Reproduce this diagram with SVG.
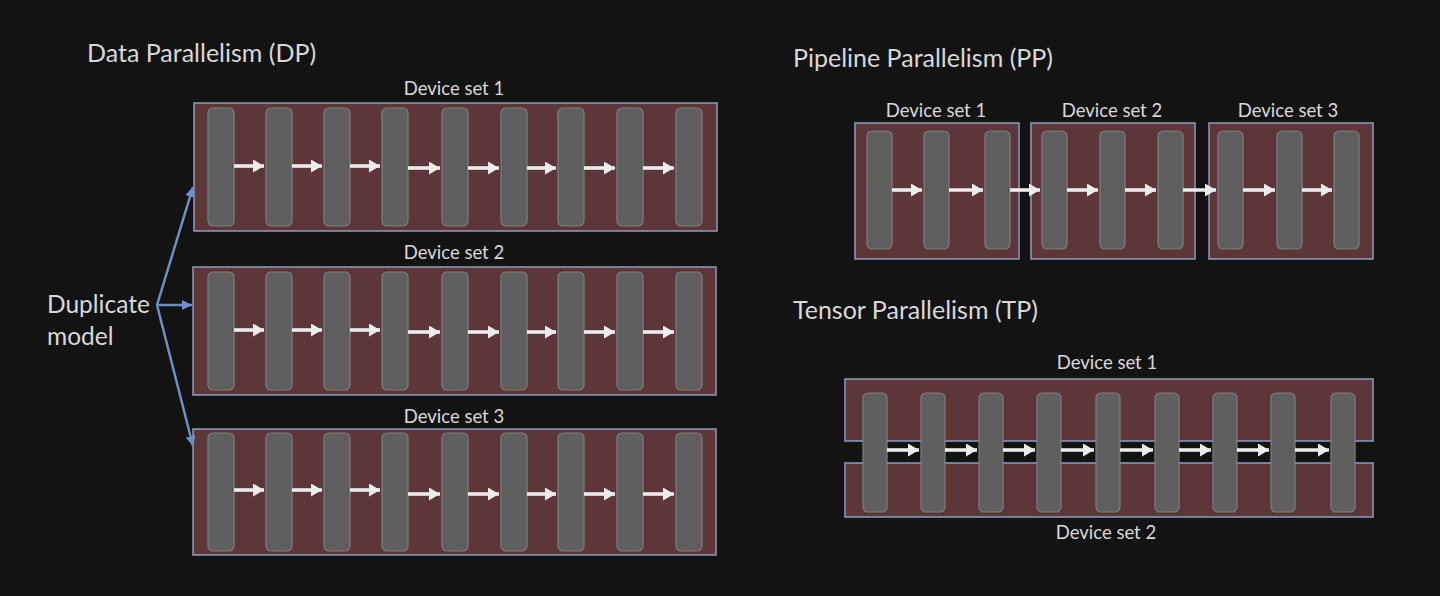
<svg xmlns="http://www.w3.org/2000/svg" width="1440" height="596" viewBox="0 0 1440 596">
<style>
.bg{fill:#131313}
.box{fill:#5c3638;stroke:#8e9cc0;stroke-width:1.5}
.bar{fill:#5e5e5e;stroke:#7e7e7e;stroke-width:1.2}
.t{font-family:Lato,"Open Sans",sans-serif;fill:#d8d8d8}
.title{font-size:25px}
.lbl{font-size:18.5px;text-anchor:middle}
.dup{font-size:24.5px}
.ar{stroke:#ececec;stroke-width:3.6;fill:none;marker-end:url(#wh)}
.bl{stroke:#6e8ec6;stroke-width:2.5;fill:none;marker-end:url(#bh)}
</style>
<defs>
<marker id="wh" markerUnits="userSpaceOnUse" viewBox="0 0 11 13" markerWidth="11" markerHeight="13" refX="11" refY="6.5" orient="auto">
<path d="M0,0 L11,6.5 L0,13 z" fill="#ececec"/>
</marker>
<marker id="bh" markerUnits="userSpaceOnUse" viewBox="0 0 10 10" markerWidth="10" markerHeight="10" refX="10" refY="5" orient="auto">
<path d="M0,0 L10,5 L0,10 z" fill="#6e8ec6"/>
</marker>
<rect id="dpbar" width="26" height="118" rx="5" class="bar"/>
<rect id="ppbar" width="25" height="118" rx="5" class="bar"/>
<rect id="tpbar" width="24" height="119" rx="5" class="bar"/>
</defs>
<rect class="bg" x="0" y="0" width="1440" height="596"/>

<text class="t title" x="87" y="62">Data Parallelism (DP)</text>
<text class="t title" x="793" y="67">Pipeline Parallelism (PP)</text>
<text class="t title" x="793" y="319">Tensor Parallelism (TP)</text>

<g id="duplicate-model">
<text class="t dup" x="47" y="313">Duplicate</text>
<text class="t dup" x="47" y="345">model</text>
</g>

<g id="dp-set1">
<rect class="box" x="194" y="103" width="523" height="128"/>
<text class="t lbl" x="454" y="95">Device set 1</text>
<use href="#dpbar" x="208" y="108"/><use href="#dpbar" x="266" y="108"/><use href="#dpbar" x="324" y="108"/>
<use href="#dpbar" x="382" y="108"/><use href="#dpbar" x="442" y="108"/><use href="#dpbar" x="501" y="108"/>
<use href="#dpbar" x="558" y="108"/><use href="#dpbar" x="617" y="108"/><use href="#dpbar" x="676" y="108"/>
</g>
<g id="dp-set2">
<rect class="box" x="193" y="267" width="523" height="128"/>
<text class="t lbl" x="454" y="259">Device set 2</text>
<use href="#dpbar" x="208" y="272"/><use href="#dpbar" x="266" y="272"/><use href="#dpbar" x="324" y="272"/>
<use href="#dpbar" x="382" y="272"/><use href="#dpbar" x="442" y="272"/><use href="#dpbar" x="501" y="272"/>
<use href="#dpbar" x="558" y="272"/><use href="#dpbar" x="617" y="272"/><use href="#dpbar" x="676" y="272"/>
</g>
<g id="dp-set3">
<rect class="box" x="193" y="429" width="523" height="126"/>
<text class="t lbl" x="454" y="423">Device set 3</text>
<use href="#dpbar" x="208" y="433"/><use href="#dpbar" x="266" y="433"/><use href="#dpbar" x="324" y="433"/>
<use href="#dpbar" x="382" y="433"/><use href="#dpbar" x="442" y="433"/><use href="#dpbar" x="501" y="433"/>
<use href="#dpbar" x="558" y="433"/><use href="#dpbar" x="617" y="433"/><use href="#dpbar" x="676" y="433"/>
</g>

<g id="pp-set1">
<rect class="box" x="855" y="123" width="164" height="136"/>
<text class="t lbl" x="936" y="117">Device set 1</text>
<use href="#ppbar" x="867" y="131"/><use href="#ppbar" x="924" y="131"/><use href="#ppbar" x="985" y="131"/>
</g>
<g id="pp-set2">
<rect class="box" x="1031" y="123" width="164" height="136"/>
<text class="t lbl" x="1112" y="117">Device set 2</text>
<use href="#ppbar" x="1042" y="131"/><use href="#ppbar" x="1100" y="131"/><use href="#ppbar" x="1158" y="131"/>
</g>
<g id="pp-set3">
<rect class="box" x="1209" y="123" width="164" height="136"/>
<text class="t lbl" x="1288" y="117">Device set 3</text>
<use href="#ppbar" x="1218" y="131"/><use href="#ppbar" x="1277" y="131"/><use href="#ppbar" x="1334" y="131"/>
</g>

<g id="tp">
<rect class="box" x="845" y="379" width="528" height="62"/>
<rect class="box" x="845" y="463" width="528" height="54"/>
<text class="t lbl" x="1107" y="369">Device set 1</text>
<text class="t lbl" x="1106" y="539">Device set 2</text>
<use href="#tpbar" x="863" y="393"/><use href="#tpbar" x="921" y="393"/><use href="#tpbar" x="979" y="393"/>
<use href="#tpbar" x="1037" y="393"/><use href="#tpbar" x="1096" y="393"/><use href="#tpbar" x="1155" y="393"/>
<use href="#tpbar" x="1213" y="393"/><use href="#tpbar" x="1271" y="393"/><use href="#tpbar" x="1331" y="393"/>
</g>

<g id="connectors">
<path class="bl" d="M157,305 L193,187"/>
<path class="bl" d="M157,305 L192,305"/>
<path class="bl" d="M157,305 L193,446"/>

<path class="ar" d="M234,166 H264"/><path class="ar" d="M292,166 H322"/><path class="ar" d="M350,166 H380"/>
<path class="ar" d="M408,168 H440"/><path class="ar" d="M468,168 H499"/><path class="ar" d="M527,168 H556"/>
<path class="ar" d="M584,168 H615"/><path class="ar" d="M643,168 H674"/>

<path class="ar" d="M234,330 H264"/><path class="ar" d="M292,330 H322"/><path class="ar" d="M350,330 H380"/>
<path class="ar" d="M408,332 H440"/><path class="ar" d="M468,332 H499"/><path class="ar" d="M527,332 H556"/>
<path class="ar" d="M584,332 H615"/><path class="ar" d="M643,332 H674"/>

<path class="ar" d="M234,490 H264"/><path class="ar" d="M292,490 H322"/><path class="ar" d="M350,490 H380"/>
<path class="ar" d="M408,494 H440"/><path class="ar" d="M468,494 H499"/><path class="ar" d="M527,494 H556"/>
<path class="ar" d="M584,494 H615"/><path class="ar" d="M643,494 H674"/>

<path class="ar" d="M892,190 H922"/><path class="ar" d="M949,190 H983"/><path class="ar" d="M1010,190 H1040"/>
<path class="ar" d="M1067,190 H1098"/><path class="ar" d="M1125,190 H1156"/><path class="ar" d="M1183,190 H1216"/>
<path class="ar" d="M1243,190 H1275"/><path class="ar" d="M1302,190 H1332"/>

<path class="ar" d="M887,450 H919"/><path class="ar" d="M945,450 H977"/><path class="ar" d="M1003,450 H1035"/>
<path class="ar" d="M1061,450 H1094"/><path class="ar" d="M1120,450 H1153"/><path class="ar" d="M1179,450 H1211"/>
<path class="ar" d="M1237,450 H1269"/><path class="ar" d="M1295,450 H1329"/>
</g>
</svg>
